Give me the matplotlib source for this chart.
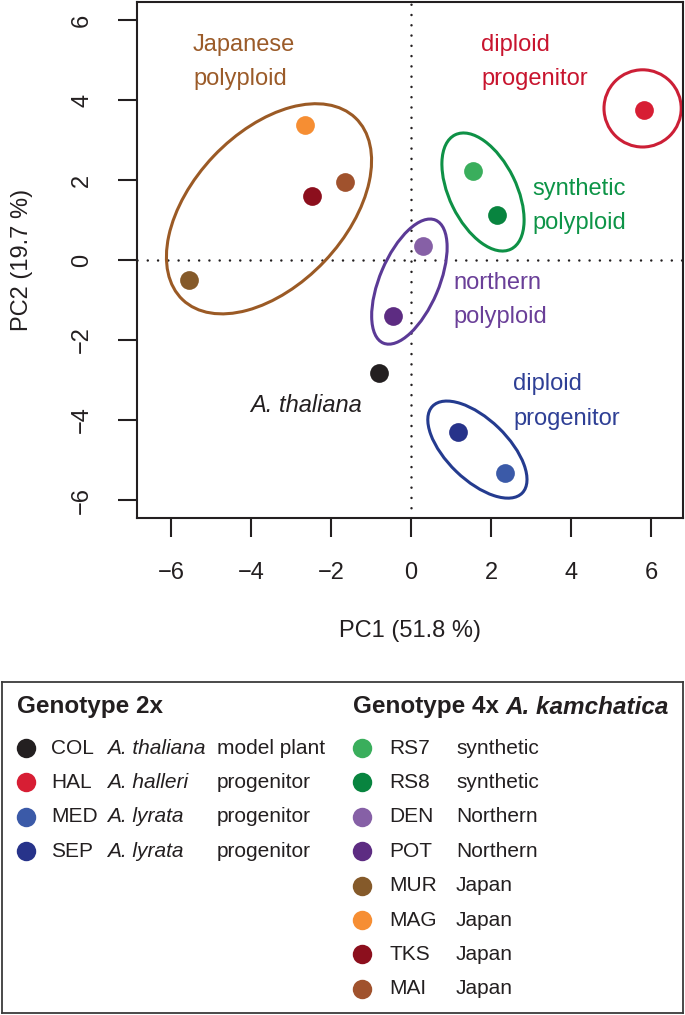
import matplotlib
matplotlib.use('Agg')
import matplotlib.pyplot as plt
from matplotlib.patches import Ellipse

plt.rcParams['font.family'] = ['Liberation Sans', 'DejaVu Sans']

# diploid genotypes
codes_2x = ['COL', 'HAL', 'MED', 'SEP']
species_2x = ['A. thaliana', 'A. halleri', 'A. lyrata', 'A. lyrata']
roles_2x = ['model plant', 'progenitor', 'progenitor', 'progenitor']
colors_2x = ['#231f20', '#d71e34', '#3b5aa8', '#27338a']
pc1_2x = [-0.80, 5.83, 2.35, 1.18]
pc2_2x = [-2.83, 3.75, -5.33, -4.30]

# tetraploid A. kamchatica genotypes
codes_4x = ['RS7', 'RS8', 'DEN', 'POT', 'MUR', 'MAG', 'TKS', 'MAI']
groups_4x = ['synthetic', 'synthetic', 'Northern', 'Northern',
             'Japan', 'Japan', 'Japan', 'Japan']
colors_4x = ['#3aae5c', '#08843f', '#8660a6', '#5d2c82',
             '#855a2a', '#f68e33', '#8c0f1d', '#a0522d']
pc1_4x = [1.56, 2.16, 0.30, -0.45, -5.55, -2.65, -2.48, -1.65]
pc2_4x = [2.22, 1.13, 0.35, -1.40, -0.50, 3.38, 1.60, 1.95]

# cluster outlines (centre, full axis lengths, rotation in degrees)
ell_x = [-3.55, 5.79, 1.80, -0.04, 1.66]
ell_y = [1.28, 3.79, 1.70, -0.54, -4.74]
ell_w = [6.27, 1.93, 3.18, 3.34, 3.12]
ell_h = [3.82, 1.93, 1.68, 1.48, 1.52]
ell_angle = [46.5, 0, 116, 67, -44]
ell_colors = ['#9b5a25', '#cc1f36', '#0e9146', '#5b3a96', '#243b8f']

# group labels next to the outlines
label_lines = [['Japanese', 'polyploid'], ['diploid', 'progenitor'],
               ['synthetic', 'polyploid'], ['northern', 'polyploid'],
               ['diploid', 'progenitor']]
label_x = [-5.45, 1.75, 3.03, 1.05, 2.55]
label_y = [5.225, 5.225, 1.625, -0.725, -3.26]
label_colors = ['#9b5b29', '#c8142e', '#0d9447', '#6a3f98', '#2e3f95']

ticks = [-6, -4, -2, 0, 2, 4, 6]

fig = plt.figure(figsize=(6.85, 10.15), dpi=100)
ax = fig.add_axes([137 / 685, 1 - 518 / 1015, 546 / 685, 516 / 1015])

# dotted zero lines
for f in (ax.axhline, ax.axvline):
    f(0, color='#231f20', lw=1.8, ls=(0, (0.01, 4.1)),
      dash_capstyle='round', zorder=1)

for x, y, w, h, a, c in zip(ell_x, ell_y, ell_w, ell_h, ell_angle, ell_colors):
    ax.add_patch(Ellipse((x, y), w, h, angle=a, fill=False, ec=c, lw=2.2, zorder=2))

for x, y, c in zip(pc1_2x + pc1_4x, pc2_2x + pc2_4x, colors_2x + colors_4x):
    ax.plot(x, y, 'o', ms=13.5, color=c, mec='none', zorder=3)

line_gap = 0.86
for lines, x, y, c in zip(label_lines, label_x, label_y, label_colors):
    for k, s in enumerate(lines):
        ax.text(x, y - k * line_gap, s, color=c, fontsize=17, va='baseline', ha='left')

ax.text(-4.03, -3.8, 'A. thaliana', style='italic', color='#231f20',
        fontsize=17, va='baseline', ha='left')

ax.set_xlim(-6.85, 6.8)
ax.set_ylim(-6.45, 6.45)
ax.set_xticks(ticks)
ax.set_yticks(ticks)
for sp in ax.spines.values():
    sp.set_linewidth(1.5)
    sp.set_color('#231f20')
ax.tick_params(direction='out', length=14, width=1.5, color='#231f20',
               labelsize=17, pad=25.5, labelcolor='#231f20')
plt.setp(ax.get_xticklabels(), va='center')
plt.setp(ax.get_yticklabels(), rotation=90, va='center', ha='center')

ax.set_xlabel('PC1 (51.8 %)', fontsize=17, color='#231f20', va='center')
ax.set_ylabel('PC2 (19.7 %)', fontsize=17, color='#231f20', va='center')
ax.xaxis.set_label_coords(0.5, -0.219)
ax.yaxis.set_label_coords(-0.2106, 0.5)

# legend panel, in pixel coordinates of the figure
lax = fig.add_axes([2 / 685, 1 - 1013 / 1015, 681 / 685, 331 / 1015])
lax.set_xlim(2, 683)
lax.set_ylim(1013, 682)
lax.set_xticks([])
lax.set_yticks([])
for sp in lax.spines.values():
    sp.set_linewidth(1.3)
    sp.set_color('#3a3a3a')

title_y = 707
row_y0 = 748
row_dy = 34.4
lax.text(17, title_y, 'Genotype 2x', fontsize=17.5, fontweight='bold',
         va='center', color='#231f20')
t4 = lax.text(353, title_y, 'Genotype 4x', fontsize=17.5, fontweight='bold',
              va='center', color='#231f20')
lax.annotate('A. kamchatica', xy=(1, 0), xycoords=t4, xytext=(4.5, 0),
             textcoords='offset points', va='bottom', ha='left', fontsize=17.5,
             fontweight='bold', style='italic', color='#231f20')

for i, (code, sp_name, role, c) in enumerate(zip(codes_2x, species_2x, roles_2x, colors_2x)):
    y = row_y0 + i * row_dy
    lax.plot(26, y, 'o', ms=14, color=c, mec='none')
    lax.text(51, y, code, fontsize=15, va='center', color='#231f20')
    lax.text(107, y, sp_name, fontsize=15, style='italic', va='center', color='#231f20')
    lax.text(217, y, role, fontsize=15, va='center', color='#231f20')

for i, (code, grp, c) in enumerate(zip(codes_4x, groups_4x, colors_4x)):
    y = row_y0 + i * row_dy
    lax.plot(362, y, 'o', ms=14, color=c, mec='none')
    lax.text(389, y, code, fontsize=15, va='center', color='#231f20')
    lax.text(456, y, grp, fontsize=15, va='center', color='#231f20')

fig.savefig('out.png', dpi=100)
